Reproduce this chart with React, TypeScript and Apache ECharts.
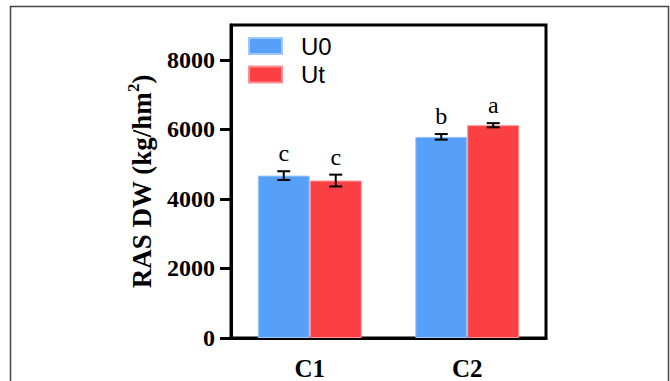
import React, { useEffect, useRef } from "react";
import * as echarts from "echarts";

const categories = ["C1", "C2"];
const seriesNames = ["U0", "Ut"];
const u0Values = [4670, 5784];
const utValues = [4527, 6118];
const u0Errors = [125, 80];
const utErrors = [170, 60];
const u0Letters = ["c", "b"];
const utLetters = ["c", "a"];
const yTicks = [0, 2000, 4000, 6000, 8000];

const SERIF = "'Liberation Serif', 'Times New Roman', serif";
const SANS = "'Liberation Sans', Arial, sans-serif";
const BLUE = "#56A0FA";
const RED = "#FB4044";
const CAT_GAP = 0.34;

function errorSeries(values: number[], errors: number[], letters: string[], side: number) {
  return {
    type: "custom",
    silent: true,
    clip: false,
    z: 5,
    data: values.map((v, i) => [i, v, errors[i]]),
    renderItem: (params: any, api: any) => {
      const i = api.value(0);
      const v = api.value(1);
      const e = api.value(2);
      const center = api.coord([i, v]);
      const catW = api.size([1, 0])[0];
      const barW = (catW * (1 - CAT_GAP)) / 2;
      const x = center[0] + (side * barW) / 2;
      const top = api.coord([i, v + e])[1];
      const bot = api.coord([i, v - e])[1];
      const cap = 6.5;
      const st = { stroke: "#000", lineWidth: 2 };
      return {
        type: "group",
        children: [
          { type: "line", shape: { x1: x, y1: top, x2: x, y2: bot }, style: st },
          { type: "line", shape: { x1: x - cap, y1: top, x2: x + cap, y2: top }, style: st },
          { type: "line", shape: { x1: x - cap, y1: bot, x2: x + cap, y2: bot }, style: st },
          {
            type: "text",
            x: x,
            y: top - 6,
            style: {
              text: letters[params.dataIndex],
              fontFamily: SERIF,
              fontSize: 24,
              fill: "#000",
              align: "center",
              verticalAlign: "bottom",
            },
          },
        ],
      };
    },
  };
}

export default function App() {
  const ref = useRef<HTMLDivElement>(null);
  useEffect(() => {
    if (!ref.current) return;
    const chart = echarts.init(ref.current, undefined, { renderer: "svg" });
    chart.setOption({
      animation: false,
      backgroundColor: "#fff",
      grid: {
        left: 231,
        right: 124,
        top: 25,
        bottom: 43,
        show: true,
        borderColor: "#000",
        borderWidth: 3,
        backgroundColor: "transparent",
      },
      legend: {
        data: seriesNames,
        orient: "vertical",
        left: 248,
        top: 34,
        padding: 0,
        icon: "rect",
        itemWidth: 33,
        itemHeight: 16,
        itemGap: 4.5,
        textStyle: {
          fontFamily: SANS,
          fontSize: 24,
          color: "#000",
          padding: [0, 0, 0, 14],
        },
      },
      xAxis: {
        type: "category",
        data: categories,
        axisLine: { lineStyle: { color: "#000", width: 3 } },
        axisTick: { alignWithLabel: true, length: 12, lineStyle: { color: "#000", width: 3 } },
        axisLabel: {
          fontFamily: SERIF,
          fontWeight: "bold",
          fontSize: 25,
          color: "#000",
          margin: 18,
        },
      },
      yAxis: {
        type: "value",
        min: 0,
        max: 9000,
        interval: 2000,
        splitLine: { show: false },
        axisLine: { show: true, lineStyle: { color: "#000", width: 3 } },
        axisTick: { show: true, length: 11, lineStyle: { color: "#000", width: 3 }, customValues: yTicks },
        axisLabel: {
          fontFamily: SERIF,
          fontWeight: "bold",
          fontSize: 24,
          color: "#000",
          margin: 16,
          customValues: yTicks,
          formatter: (v: number) => String(v),
        },
        name: "{t|RAS DW (kg/hm}{s|2}{t|)}",
        nameLocation: "middle",
        nameGap: 72,
        nameTextStyle: {
          rich: {
            t: { fontFamily: SERIF, fontWeight: "bold", fontSize: 27, color: "#000", lineHeight: 34 },
            s: { fontFamily: SERIF, fontWeight: "bold", fontSize: 17, color: "#000", verticalAlign: "top", lineHeight: 34 },
          },
        },
      },
      series: [
        {
          name: "U0",
          type: "bar",
          data: u0Values,
          barGap: "0%",
          barCategoryGap: "34%",
          itemStyle: { color: BLUE, borderColor: "#9cc8fc", borderWidth: 1 },
        },
        {
          name: "Ut",
          type: "bar",
          data: utValues,
          barGap: "0%",
          barCategoryGap: "34%",
          itemStyle: { color: RED, borderColor: "#fc9092", borderWidth: 1 },
        },
        errorSeries(u0Values, u0Errors, u0Letters, -1),
        errorSeries(utValues, utErrors, utLetters, 1),
      ],
      graphic: [
        {
          type: "rect",
          shape: { x: 10.5, y: 6.5, width: 658, height: 420 },
          style: { fill: "none", stroke: "#444", lineWidth: 1.5 },
          silent: true,
          z: 100,
        },
      ],
    });
    return () => chart.dispose();
  }, []);
  return (
    <div
      ref={ref}
      style={{ position: "fixed", left: 0, top: 0, width: 670, height: 381 }}
    />
  );
}
